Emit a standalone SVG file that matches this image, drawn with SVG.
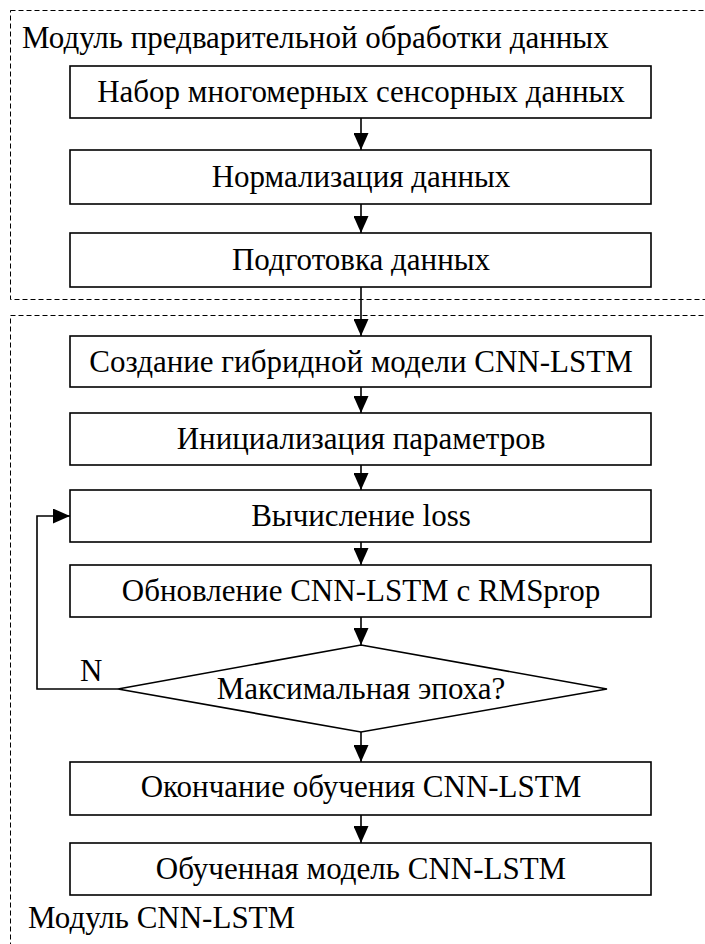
<svg xmlns="http://www.w3.org/2000/svg" width="705" height="944" viewBox="0 0 705 944">
<style>
.box{fill:#fff;stroke:#000;stroke-width:1.6}
.dash{fill:none;stroke:#000;stroke-width:1;stroke-dasharray:5,3}
.t{font-family:"Liberation Serif","Times New Roman",serif;font-size:31px;fill:#000;text-anchor:middle}
.l{font-family:"Liberation Serif","Times New Roman",serif;font-size:31px;fill:#000}
.c{fill:none;stroke:#000;stroke-width:1.6}
</style>
<defs>
<marker id="ah" markerWidth="17" markerHeight="15" refX="17" refY="7.5" orient="auto" markerUnits="userSpaceOnUse">
<path d="M0,0 L17,7.5 L0,15 Z" fill="#000"/>
</marker>
</defs>
<rect class="dash" x="10.5" y="10.5" width="720" height="289"/>
<rect class="dash" x="10.5" y="315.5" width="720" height="660"/>
<text class="l" x="22" y="48">Модуль предварительной обработки данных</text>
<text class="l" x="28" y="928">Модуль CNN-LSTM</text>
<g id="connectors">
<line class="c" x1="361" y1="118" x2="361" y2="150" marker-end="url(#ah)"/>
<line class="c" x1="361" y1="204" x2="361" y2="233" marker-end="url(#ah)"/>
<line class="c" x1="361" y1="287" x2="361" y2="336" marker-end="url(#ah)"/>
<line class="c" x1="361" y1="387" x2="361" y2="413" marker-end="url(#ah)"/>
<line class="c" x1="361" y1="465" x2="361" y2="490" marker-end="url(#ah)"/>
<line class="c" x1="361" y1="542" x2="361" y2="565" marker-end="url(#ah)"/>
<line class="c" x1="361" y1="617" x2="361" y2="645" marker-end="url(#ah)"/>
<line class="c" x1="361" y1="732" x2="361" y2="762" marker-end="url(#ah)"/>
<line class="c" x1="361" y1="815" x2="361" y2="843" marker-end="url(#ah)"/>
<polyline class="c" points="118,689 37,689 37,516 70,516" marker-end="url(#ah)"/>
<text class="l" x="80" y="681">N</text>
</g>
<g id="n1"><rect class="box" x="70" y="66" width="581" height="52"/><text class="t" x="361" y="102">Набор многомерных сенсорных данных</text></g>
<g id="n2"><rect class="box" x="70" y="150" width="581" height="54"/><text class="t" x="361" y="187">Нормализация данных</text></g>
<g id="n3"><rect class="box" x="70" y="233" width="581" height="54"/><text class="t" x="361" y="270">Подготовка данных</text></g>
<g id="n4"><rect class="box" x="70" y="336" width="581" height="51"/><text class="t" x="361" y="372">Создание гибридной модели CNN-LSTM</text></g>
<g id="n5"><rect class="box" x="70" y="413" width="581" height="52"/><text class="t" x="361" y="449">Инициализация параметров</text></g>
<g id="n6"><rect class="box" x="70" y="490" width="581" height="52"/><text class="t" x="361" y="526">Вычисление loss</text></g>
<g id="n7"><rect class="box" x="70" y="565" width="581" height="52"/><text class="t" x="361" y="601">Обновление CNN-LSTM с RMSprop</text></g>
<g id="n8"><polygon class="box" points="361,645 607,689 361,732 118,689"/><text class="t" x="361" y="699">Максимальная эпоха?</text></g>
<g id="n9"><rect class="box" x="70" y="762" width="581" height="53"/><text class="t" x="361" y="797">Окончание обучения CNN-LSTM</text></g>
<g id="n10"><rect class="box" x="70" y="843" width="581" height="52"/><text class="t" x="361" y="879">Обученная модель CNN-LSTM</text></g>
</svg>
